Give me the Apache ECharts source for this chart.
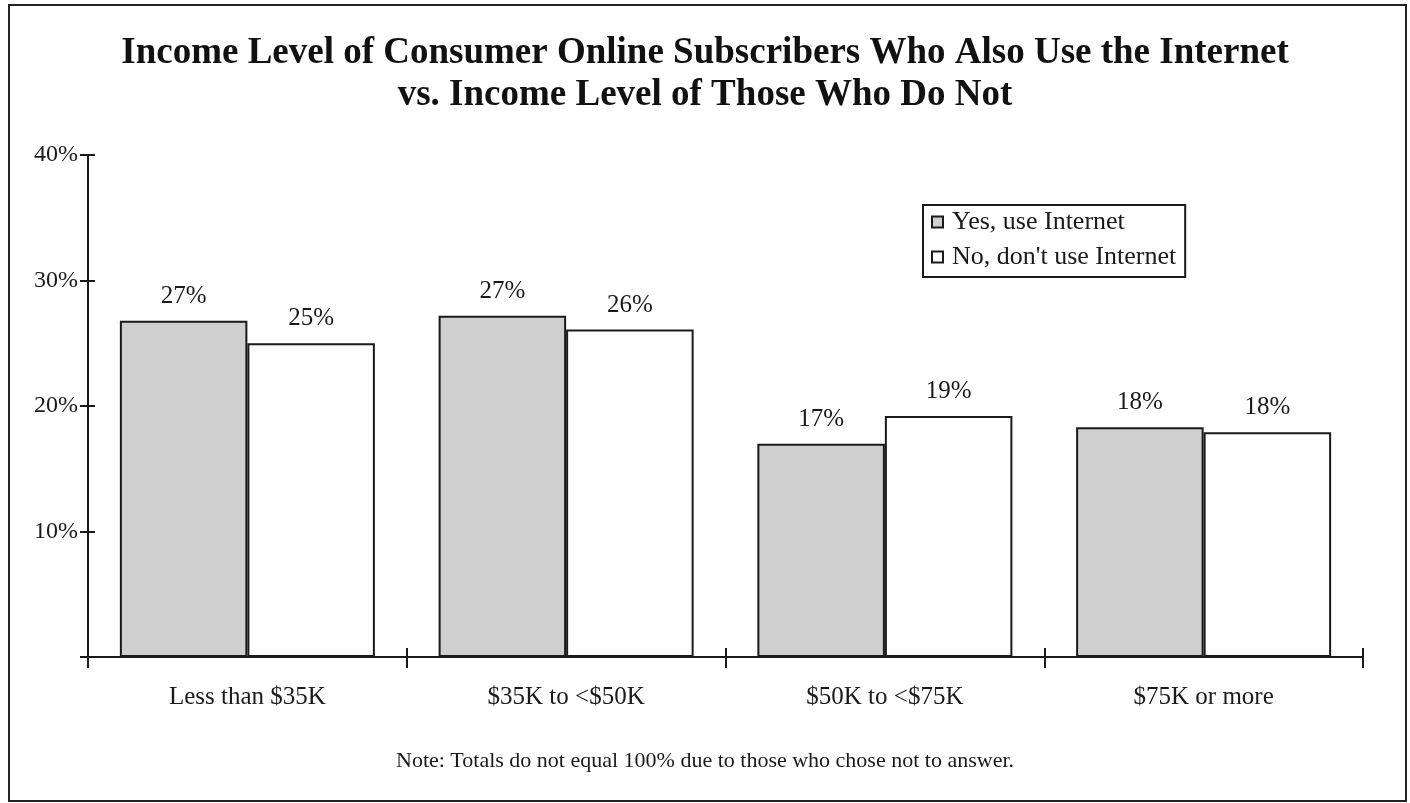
<!DOCTYPE html>
<html>
<head>
<meta charset="utf-8">
<title>Income Level of Consumer Online Subscribers</title>
<script src="https://cdn.jsdelivr.net/npm/echarts@6/dist/echarts.min.js"></script>
<style>
  html, body { margin: 0; padding: 0; background: #fff; }
  #chart { width: 1410px; height: 803px; }
</style>
</head>
<body>
<div id="chart"></div>
<script>
// Income brackets on the x axis
const categories = ['Less than $35K', '$35K to <$50K', '$50K to <$75K', '$75K or more'];
// Share of subscribers in each bracket (%)
const useInternet = [26.8, 27.2, 17.0, 18.3];
const noInternet = [25.0, 26.1, 19.2, 17.9];
const seriesNames = ['Yes, use Internet', "No, don't use Internet"];
const yTicks = [0, 10, 20, 30, 40];

const serif = '"Liberation Serif", "Times New Roman", serif';
const ink = '#1a1a1a';

const chart = echarts.init(document.getElementById('chart'), null, { renderer: 'canvas' });

const labelStyle = {
  show: true,
  position: 'top',
  distance: 12,
  fontFamily: serif,
  fontSize: 25,
  color: ink,
  formatter: p => Math.round(p.value) + '%'
};

const option = {
  backgroundColor: '#ffffff',
  animation: false,
  title: {
    text: 'Income Level of Consumer Online Subscribers Who Also Use the Internet\nvs. Income Level of Those Who Do Not',
    left: 'center',
    top: 27,
    textStyle: {
      fontFamily: serif,
      fontWeight: 'bold',
      fontSize: 37,
      lineHeight: 42,
      color: '#111'
    }
  },
  legend: {
    data: seriesNames,
    orient: 'vertical',
    left: 923,
    top: 205,
    itemWidth: 11,
    itemHeight: 11,
    itemGap: 7,
    icon: 'rect',
    padding: [3, 9, 6, 8],
    borderColor: ink,
    borderWidth: 2,
    backgroundColor: '#fff',
    selectedMode: false,
    textStyle: { fontFamily: serif, fontSize: 26, lineHeight: 28, color: ink, padding: [0, 0, 0, 4] }
  },
  grid: { left: 88, right: 47, top: 155, bottom: 146, containLabel: false },
  xAxis: [
    {
      type: 'category',
      data: categories,
      axisLine: { show: true, lineStyle: { color: ink, width: 2 } },
      axisTick: { show: true, length: 11, alignWithLabel: false, lineStyle: { color: ink, width: 2 } },
      axisLabel: { fontFamily: serif, fontSize: 25, color: ink, margin: 28 }
    },
    {
      type: 'category',
      data: categories,
      position: 'bottom',
      axisLine: { show: false },
      axisTick: { show: true, inside: true, length: 9, lineStyle: { color: ink, width: 2 } },
      axisLabel: { show: false }
    }
  ],
  yAxis: [
    {
      type: 'value',
      min: yTicks[0],
      max: yTicks[yTicks.length - 1],
      interval: 10,
      splitLine: { show: false },
      axisLine: { show: true, lineStyle: { color: ink, width: 2 } },
      axisTick: { show: true, length: 8, lineStyle: { color: ink, width: 2 } },
      axisLabel: {
        fontFamily: serif, fontSize: 24, color: ink, margin: 10,
        formatter: v => (v === 0 ? '' : v + '%')
      }
    },
    {
      type: 'value',
      position: 'left',
      min: yTicks[0],
      max: yTicks[yTicks.length - 1],
      interval: 10,
      splitLine: { show: false },
      axisLine: { show: false },
      axisTick: { show: true, inside: true, length: 7, lineStyle: { color: ink, width: 2 } },
      axisLabel: { show: false }
    }
  ],
  series: [
    {
      name: seriesNames[0],
      type: 'bar',
      data: useInternet,
      barGap: '0%',
      barCategoryGap: '20%',
      itemStyle: { color: '#cfcfcf', borderColor: ink, borderWidth: 2 },
      label: labelStyle
    },
    {
      name: seriesNames[1],
      type: 'bar',
      data: noInternet,
      barGap: '0%',
      barCategoryGap: '20%',
      itemStyle: { color: '#ffffff', borderColor: ink, borderWidth: 2 },
      label: labelStyle
    }
  ],
  graphic: [
    {
      type: 'rect',
      shape: { x: 9, y: 5, width: 1397, height: 796 },
      style: { fill: 'none', stroke: '#222', lineWidth: 2 },
      silent: true,
      z: -1
    },
    {
      type: 'text',
      x: 705,
      y: 761,
      style: {
        text: 'Note: Totals do not equal 100% due to those who chose not to answer.',
        fontFamily: serif,
        fontSize: 22,
        fill: ink,
        align: 'center',
        verticalAlign: 'middle'
      }
    }
  ]
};

chart.setOption(option);
</script>
</body>
</html>
